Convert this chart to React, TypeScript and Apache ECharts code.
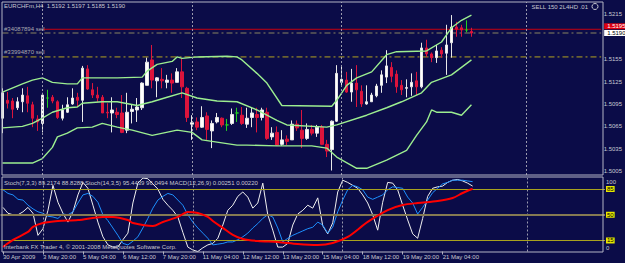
import React, { useEffect, useRef } from "react";
import * as echarts from "echarts";

const symbolLabel = "EURCHFm,H4";
const eaLabel = "SELL 150 2L4HD .01";
const copyright = "Interbank FX Trader 4, \u00a9 2001-2008 MetaQuotes Software Corp.";
const indicatorLegend =
  "Stoch(7,3,3) 89.2174 88.8288 Stoch(14,3,5) 95.4439 96.0494 MACD(12,26,9) 0.00251 0.00220";

const opens = [
  1.5076, 1.51, 1.5099, 1.509, 1.5098, 1.5106, 1.5094, 1.5075, 1.5069, 1.5103,
  1.5104, 1.5098, 1.5076, 1.5084, 1.5095, 1.5104, 1.51, 1.5142, 1.5114, 1.5107,
  1.5104, 1.5084, 1.5083, 1.5084, 1.5083, 1.506, 1.5085, 1.5087, 1.509, 1.512,
  1.5154, 1.5126, 1.5128, 1.5124, 1.5127, 1.5124, 1.5138, 1.5116, 1.5068, 1.5071,
  1.5064, 1.5079, 1.5059, 1.5071, 1.5076, 1.5067, 1.5069, 1.5083, 1.508, 1.5068,
  1.5077, 1.5081, 1.5077, 1.5084, 1.5051, 1.5057, 1.5041, 1.5048, 1.5047, 1.5068,
  1.506, 1.5049, 1.5061, 1.5056, 1.5064, 1.5041, 1.5034, 1.5072, 1.5124, 1.5127,
  1.5111, 1.5123, 1.5112, 1.5095, 1.5098, 1.5106, 1.512, 1.5131, 1.5144, 1.5135,
  1.512, 1.5116, 1.5118, 1.5126, 1.5118, 1.517, 1.5162, 1.5157, 1.5167, 1.5163,
  1.5177, 1.5198, 1.5197, 1.5194, 1.5192,
];
const closes = [
  1.511, 1.5096, 1.5088, 1.5098, 1.5107, 1.5096, 1.5076, 1.5071, 1.5107, 1.5103,
  1.5099, 1.5077, 1.5087, 1.5094, 1.5103, 1.51, 1.5143, 1.5115, 1.5107, 1.5103,
  1.5083, 1.5083, 1.5087, 1.5081, 1.5057, 1.5084, 1.5088, 1.5091, 1.5123, 1.5151,
  1.5127, 1.513, 1.5126, 1.5127, 1.5123, 1.5138, 1.5118, 1.5077, 1.507, 1.5064,
  1.5077, 1.5061, 1.5069, 1.5077, 1.5067, 1.5067, 1.5081, 1.5083, 1.5069, 1.5076,
  1.5083, 1.5077, 1.5087, 1.5049, 1.5056, 1.504, 1.5047, 1.5045, 1.5068, 1.5063,
  1.5049, 1.5061, 1.5056, 1.5064, 1.5041, 1.5032, 1.5072, 1.5136, 1.5128, 1.5111,
  1.5123, 1.5114, 1.5095, 1.5098, 1.5107, 1.5119, 1.5134, 1.5146, 1.5132, 1.5118,
  1.5114, 1.5117, 1.5124, 1.5118, 1.517, 1.5162, 1.5157, 1.5166, 1.5162, 1.5174,
  1.5198, 1.5195, 1.5194, 1.5194, 1.519,
];
const lows = [
  1.5056, 1.5089, 1.5076, 1.5087, 1.5084, 1.5084, 1.5064, 1.5059, 1.5057, 1.509,
  1.5096, 1.5075, 1.5073, 1.5083, 1.5094, 1.5091, 1.5071, 1.5114, 1.5103, 1.5098,
  1.5083, 1.5076, 1.5057, 1.5076, 1.5056, 1.5056, 1.5069, 1.5071, 1.5087, 1.512,
  1.5116, 1.5104, 1.5116, 1.5116, 1.511, 1.5124, 1.5103, 1.5071, 1.5047, 1.506,
  1.5063, 1.5047, 1.5036, 1.5069, 1.5064, 1.5059, 1.5067, 1.5071, 1.5067, 1.5063,
  1.5064, 1.5057, 1.5073, 1.5047, 1.5047, 1.5039, 1.5039, 1.504, 1.5047, 1.5059,
  1.5036, 1.5047, 1.5053, 1.5051, 1.504, 1.5024, 1.5006, 1.5071, 1.5118, 1.511,
  1.5098, 1.5091, 1.5091, 1.5094, 1.5098, 1.5104, 1.511, 1.5123, 1.5124, 1.511,
  1.5107, 1.5104, 1.5106, 1.5107, 1.5116, 1.5158, 1.5151, 1.515, 1.5157, 1.5134,
  1.5157, 1.5185, 1.5185, 1.5191, 1.5185,
];
const highs = [
  1.5116, 1.5111, 1.5103, 1.5104, 1.5116, 1.5118, 1.5098, 1.508, 1.511, 1.5114,
  1.5107, 1.51, 1.5094, 1.5104, 1.5116, 1.511, 1.5146, 1.5147, 1.5123, 1.5118,
  1.5107, 1.5096, 1.5104, 1.509, 1.5107, 1.511, 1.5094, 1.5103, 1.5124, 1.5157,
  1.5174, 1.5131, 1.5143, 1.5134, 1.5136, 1.5143, 1.5156, 1.5118, 1.508, 1.5077,
  1.5092, 1.5084, 1.5073, 1.5083, 1.5077, 1.5075, 1.5089, 1.509, 1.5091, 1.509,
  1.509, 1.509, 1.509, 1.509, 1.5064, 1.5065, 1.506, 1.5053, 1.5073, 1.5073,
  1.5087, 1.5069, 1.5067, 1.5067, 1.5067, 1.5047, 1.5073, 1.5147, 1.5147, 1.5138,
  1.5142, 1.5147, 1.512, 1.512, 1.511, 1.5122, 1.514, 1.5167, 1.5151, 1.514,
  1.5127, 1.5128, 1.5136, 1.5138, 1.5177, 1.5181, 1.5164, 1.5174, 1.5171, 1.5201,
  1.5214, 1.5205, 1.5201, 1.5207, 1.5197,
];

// Bollinger bands, read at sampled bars: [bar index, price]
const bandUpper = [
  [0, 1.5111], [4, 1.5122], [6, 1.5127], [8, 1.513], [10, 1.5124], [13, 1.5122],
  [15, 1.5122], [16, 1.513], [23, 1.513], [28, 1.5131], [29, 1.5139], [31, 1.5148],
  [34, 1.5152], [35, 1.5158], [36, 1.5156], [39, 1.5158], [45, 1.5159], [47, 1.5158],
  [48, 1.5154], [51, 1.5136], [53, 1.5123], [56, 1.5093], [66, 1.5092], [67, 1.51],
  [69, 1.512], [71, 1.513], [74, 1.5138], [77, 1.5161], [79, 1.5165], [85, 1.5166],
  [88, 1.5178], [90, 1.5197], [92, 1.5207], [94, 1.5214],
];
const bandMiddle = [
  [0, 1.5063], [4, 1.5065], [6, 1.5069], [8, 1.5076], [10, 1.5084], [13, 1.509],
  [15, 1.5091], [16, 1.5096], [20, 1.5098], [23, 1.5098], [27, 1.5093], [30, 1.5098],
  [33, 1.5104], [36, 1.511], [39, 1.5103], [43, 1.5099], [47, 1.5098], [51, 1.5087],
  [55, 1.5073], [57, 1.5067], [65, 1.5064], [67, 1.5067], [73, 1.508], [77, 1.509],
  [80, 1.5098], [84, 1.511], [86, 1.5124], [90, 1.5134], [94, 1.5154],
];
const bandLower = [
  [0, 1.5016], [6, 1.5016], [8, 1.5022], [10, 1.5037], [11, 1.5051], [13, 1.5056],
  [15, 1.5063], [18, 1.5064], [20, 1.5069], [23, 1.5064], [26, 1.506], [30, 1.5053],
  [35, 1.506], [38, 1.5057], [40, 1.5047], [43, 1.5044], [47, 1.504], [49, 1.504],
  [55, 1.5039], [62, 1.5039], [65, 1.5036], [67, 1.5024], [71, 1.5009], [73, 1.5009],
  [77, 1.502], [81, 1.5033], [83, 1.5053], [85, 1.5071], [86, 1.5087], [87, 1.5084],
  [90, 1.5084], [92, 1.508], [94, 1.5094],
];

const stochFast = [
  60, 52, 50, 50, 54, 60, 52, 22, 31, 56, 90, 67, 52, 40, 54, 77, 94, 86, 63, 40,
  20, 9, 6, 6, 16, 25, 66, 93, 100, 99, 92, 85, 71, 63, 56, 47, 26, 6, 2, 0,
  5, 9, 11, 18, 36, 56, 63, 75, 81, 74, 59, 66, 93, 50, 29, 6, 6, 11, 36, 51,
  56, 63, 59, 73, 35, 24, 39, 81, 97, 94, 90, 86, 77, 66, 50, 29, 67, 94, 93, 84,
  63, 43, 24, 18, 45, 75, 86, 88, 89, 94, 97, 98, 96, 93, 89,
];
const stochSlow = [
  84, 79, 77, 71, 70, 63, 58, 54, 52, 48, 47, 45, 51, 50, 54, 66, 77, 79, 75, 67,
  50, 42, 32, 22, 11, 9, 14, 20, 32, 45, 59, 70, 75, 79, 77, 70, 63, 50, 40, 32,
  25, 18, 9, 10, 11, 13, 13, 16, 20, 25, 32, 38, 45, 50, 47, 32, 13, 18, 22, 25,
  28, 31, 33, 40, 36, 25, 33, 54, 70, 84, 90, 88, 84, 74, 71, 74, 77, 84, 88, 87,
  86, 74, 66, 51, 60, 70, 80, 86, 92, 94, 97, 97, 97, 96, 95,
];
const macdMain = [
  [0, -0.00121], [2, -0.00076], [5, -0.00025], [6, 0.00007], [8, 0.00032], [11, 0.00045],
  [15, 0.00051], [20, 0.00071], [22, 0.00071], [25, 0.00051], [26, 0.00032], [30, 0.00013],
  [32, 0.00039], [35, 0.00071], [37, 0.00103], [39, 0.00096], [41, 0.00071], [42, 0.00045],
  [44, 0.00001], [46, -0.00044], [48, -0.0007], [51, -0.00083], [55, -0.00089], [59, -0.00102],
  [63, -0.00108], [66, -0.00096], [69, -0.00057], [73, 0.00039], [77, 0.00115], [80, 0.00147],
  [83, 0.0016], [87, 0.00173], [90, 0.00192], [92, 0.00224], [94, 0.00251],
];

const slotCount = 121;
const timeLabels = [
  "30 Apr 2009", "3 May 20:00", "5 May 04:00", "6 May 12:00", "7 May 20:00", "11 May 04:00",
  "12 May 12:00", "13 May 20:00", "15 May 04:00", "18 May 12:00", "19 May 20:00", "21 May 04:00",
];
const labelStep = 8;
const weekSeparators = [8, 38, 68, 105];
// 1.5185 sits behind the bid price box, as in the terminal
const priceTicks = [1.5005, 1.5035, 1.5065, 1.5095, 1.5125, 1.5155, 1.5215];
const stochTicks = [0, 15, 50, 85, 100];
const stochLevels = [85, 50, 15];
const orderTickets = ["#34087894 sell", "#33994870 sell"];
const orderPrices = [1.519, 1.5158];
const alertPrice = 1.5195;
const alertStartBar = 8;
const bidPrice = 1.519;

const BG = "#0b0c48";
const TXT = "#c8c8d0";
const FONT = "'Liberation Sans', Arial, sans-serif";
const FS = 6;
const DOJI = "#22d022";
const BULL = "#ffffff";
const BEAR = "#dc143c";
const BAND = "#9cee90";

export default function App() {
  const ref = useRef<HTMLDivElement>(null);
  useEffect(() => {
    if (!ref.current) return;
    const chart = echarts.init(ref.current, null, { renderer: "svg" });
    const cats = Array.from({ length: slotCount }, (_, i) => String(i));
    const lastSlot = slotCount - 1;
    const candles = opens.map((o, i) => {
      const v = [o, closes[i], lows[i], highs[i]];
      if (o === closes[i]) {
        return { value: v, itemStyle: { color: DOJI, color0: DOJI, borderColor: DOJI, borderColor0: DOJI } };
      }
      return v;
    });
    const last = opens.length - 1;
    const title = `${symbolLabel}  ${opens[last].toFixed(4)} ${highs[last].toFixed(4)} ${lows[last].toFixed(4)} ${closes[last].toFixed(4)}`;
    const isLabelIdx = (idx: number) => idx % labelStep === 0 && idx / labelStep < timeLabels.length;
    const vLines = weekSeparators.map((i) => ({
      xAxis: i,
      lineStyle: { color: "#9a9aae", type: [2, 2], width: 1 },
      label: { show: false },
    }));
    const priceBox = (bg: string, fg: string, dy: number) => ({
      show: true,
      formatter: (p: any) => Number(p.value[1]).toFixed(4),
      backgroundColor: bg,
      color: fg,
      fontSize: FS,
      fontFamily: FONT,
      padding: [0, 3],
      distance: 3,
      offset: [0, dy],
    });
    const hLine = (startBar: number, price: number, color: string, type: any, endLabel: any, z: number) => ({
      type: "line",
      xAxisIndex: 0,
      yAxisIndex: 0,
      data: [
        [startBar, price],
        [lastSlot, price],
      ],
      symbol: "none",
      silent: true,
      lineStyle: { color, type, width: 1 },
      endLabel,
      z,
    });

    chart.setOption({
      animation: false,
      backgroundColor: BG,
      textStyle: { fontFamily: FONT },
      grid: [
        { left: 0, top: 2, width: 605, height: 173 },
        { left: 0, top: 178, width: 605, height: 73.5 },
      ],
      xAxis: [
        { type: "category", data: cats, gridIndex: 0, show: false },
        {
          type: "category",
          data: cats,
          gridIndex: 1,
          axisLine: { show: false },
          axisTick: {
            show: true,
            alignWithLabel: true,
            interval: (idx: number) => isLabelIdx(idx),
            length: 3,
            lineStyle: { color: "#b0b0c0" },
          },
          axisLabel: {
            interval: (idx: number) => isLabelIdx(idx),
            formatter: (_v: string, idx: number) => (isLabelIdx(idx) ? timeLabels[idx / labelStep] : ""),
            align: "left",
            color: TXT,
            fontSize: FS,
            fontFamily: FONT,
            margin: 2,
          },
          splitLine: { show: false },
        },
      ],
      yAxis: [
        {
          type: "value",
          gridIndex: 0,
          position: "right",
          min: 1.5,
          max: 1.52315,
          splitLine: { show: false },
          axisLine: { show: false },
          axisTick: { show: false },
          axisLabel: {
            customValues: priceTicks,
            formatter: (v: number) => v.toFixed(4),
            color: TXT,
            fontSize: FS,
            fontFamily: FONT,
            margin: 0,
          },
        },
        {
          type: "value",
          gridIndex: 1,
          position: "right",
          min: 0,
          max: 100,
          splitLine: { show: false },
          axisLine: { show: false },
          axisTick: { show: false },
          axisLabel: {
            customValues: stochTicks,
            formatter: (v: number) =>
              stochLevels.includes(v) ? `{lv|${v}}` : v === 100 ? `{hi|${v}}` : `{lo|${v}}`,
            margin: 1,
            rich: {
              lv: { backgroundColor: "#e6e600", color: "#000", fontSize: FS, fontFamily: FONT, padding: [0, 1] },
              hi: { color: TXT, fontSize: FS, fontFamily: FONT, padding: [7, 0, 0, 0] },
              lo: { color: TXT, fontSize: FS, fontFamily: FONT, padding: [0, 0, 7, 0] },
            },
          },
        },
        { type: "value", gridIndex: 1, min: -0.0015, max: 0.0032, show: false },
      ],
      series: [
        hLine(0, orderPrices[1], "#b4a420", [6, 3, 2, 3], undefined, 1),
        hLine(0, orderPrices[0], "#8a8460", [6, 3, 2, 3], undefined, 1),
        hLine(alertStartBar, alertPrice, "#c80010", "solid", priceBox("#e00010", "#ffffff", -3), 1),
        {
          type: "line",
          xAxisIndex: 0,
          yAxisIndex: 0,
          data: [
            [0, bidPrice],
            [lastSlot, bidPrice],
          ],
          symbol: "none",
          silent: true,
          lineStyle: { opacity: 0 },
          endLabel: priceBox("#ffffff", "#000000", 0),
          z: 6,
        },
        {
          type: "candlestick",
          xAxisIndex: 0,
          yAxisIndex: 0,
          barWidth: 3,
          data: candles,
          itemStyle: { color: BULL, color0: BEAR, borderColor: "#e8e8e8", borderColor0: BEAR, borderWidth: 1 },
          markLine: {
            silent: true,
            symbol: ["none", "none"],
            data: vLines,
          },
          z: 2,
        },
        ...[bandUpper, bandMiddle, bandLower].map((d) => ({
          type: "line",
          xAxisIndex: 0,
          yAxisIndex: 0,
          data: d,
          symbol: "none",
          lineStyle: { color: BAND, width: 1.4 },
          z: 3,
        })),
        {
          type: "line",
          xAxisIndex: 1,
          yAxisIndex: 1,
          data: stochFast,
          symbol: "none",
          lineStyle: { color: "#f0f0f0", width: 1 },
          z: 4,
          markLine: {
            silent: true,
            symbol: ["none", "none"],
            data: [
              ...vLines,
              ...stochLevels.map((lv) => ({
                yAxis: lv,
                lineStyle: { color: lv === 50 ? "#857a52" : "#a8a21e", type: "solid", width: lv === 50 ? 2 : 1 },
                label: { show: false },
              })),
            ],
          },
        },
        {
          type: "line",
          xAxisIndex: 1,
          yAxisIndex: 1,
          data: stochSlow,
          symbol: "none",
          lineStyle: { color: "#1e90ff", width: 1 },
          z: 4,
        },
        {
          type: "line",
          xAxisIndex: 1,
          yAxisIndex: 2,
          data: macdMain,
          symbol: "none",
          smooth: 0.3,
          lineStyle: { color: "#ff0000", width: 2 },
          z: 5,
        },
      ],
      graphic: [
        { type: "rect", silent: true, shape: { x: 2, y: 2, width: 601, height: 173 }, style: { fill: "none", stroke: "#b4b4c4", lineWidth: 1 }, z: 10 },
        { type: "rect", silent: true, shape: { x: 2, y: 177, width: 601, height: 75 }, style: { fill: "none", stroke: "#b4b4c4", lineWidth: 1 }, z: 10 },
        { type: "text", x: 4, y: 6, style: { text: title, fill: TXT, font: `${FS}px ${FONT}`, verticalAlign: "middle" }, z: 11 },
        { type: "text", x: 588, y: 6.5, style: { text: eaLabel, fill: TXT, font: `${FS}px ${FONT}`, align: "right", verticalAlign: "middle" }, z: 11 },
        { type: "circle", shape: { cx: 595, cy: 6.5, r: 3 }, style: { fill: "none", stroke: TXT, lineWidth: 1 }, z: 11 },
        { type: "text", x: 4, y: 29, style: { text: orderTickets[0], fill: "#a8a8b0", font: `${FS}px ${FONT}`, verticalAlign: "middle" }, z: 11 },
        { type: "text", x: 4, y: 52, style: { text: orderTickets[1], fill: "#a8a8b0", font: `${FS}px ${FONT}`, verticalAlign: "middle" }, z: 11 },
        { type: "text", x: 4, y: 182.5, style: { text: indicatorLegend, fill: TXT, font: `${FS}px ${FONT}`, verticalAlign: "middle" }, z: 11 },
        { type: "text", x: 4, y: 247, style: { text: copyright, fill: TXT, font: `${FS}px ${FONT}`, verticalAlign: "middle" }, z: 11 },
      ],
    });
    return () => chart.dispose();
  }, []);
  return <div ref={ref} style={{ position: "fixed", left: 0, top: 0, width: 625, height: 263 }} />;
}
